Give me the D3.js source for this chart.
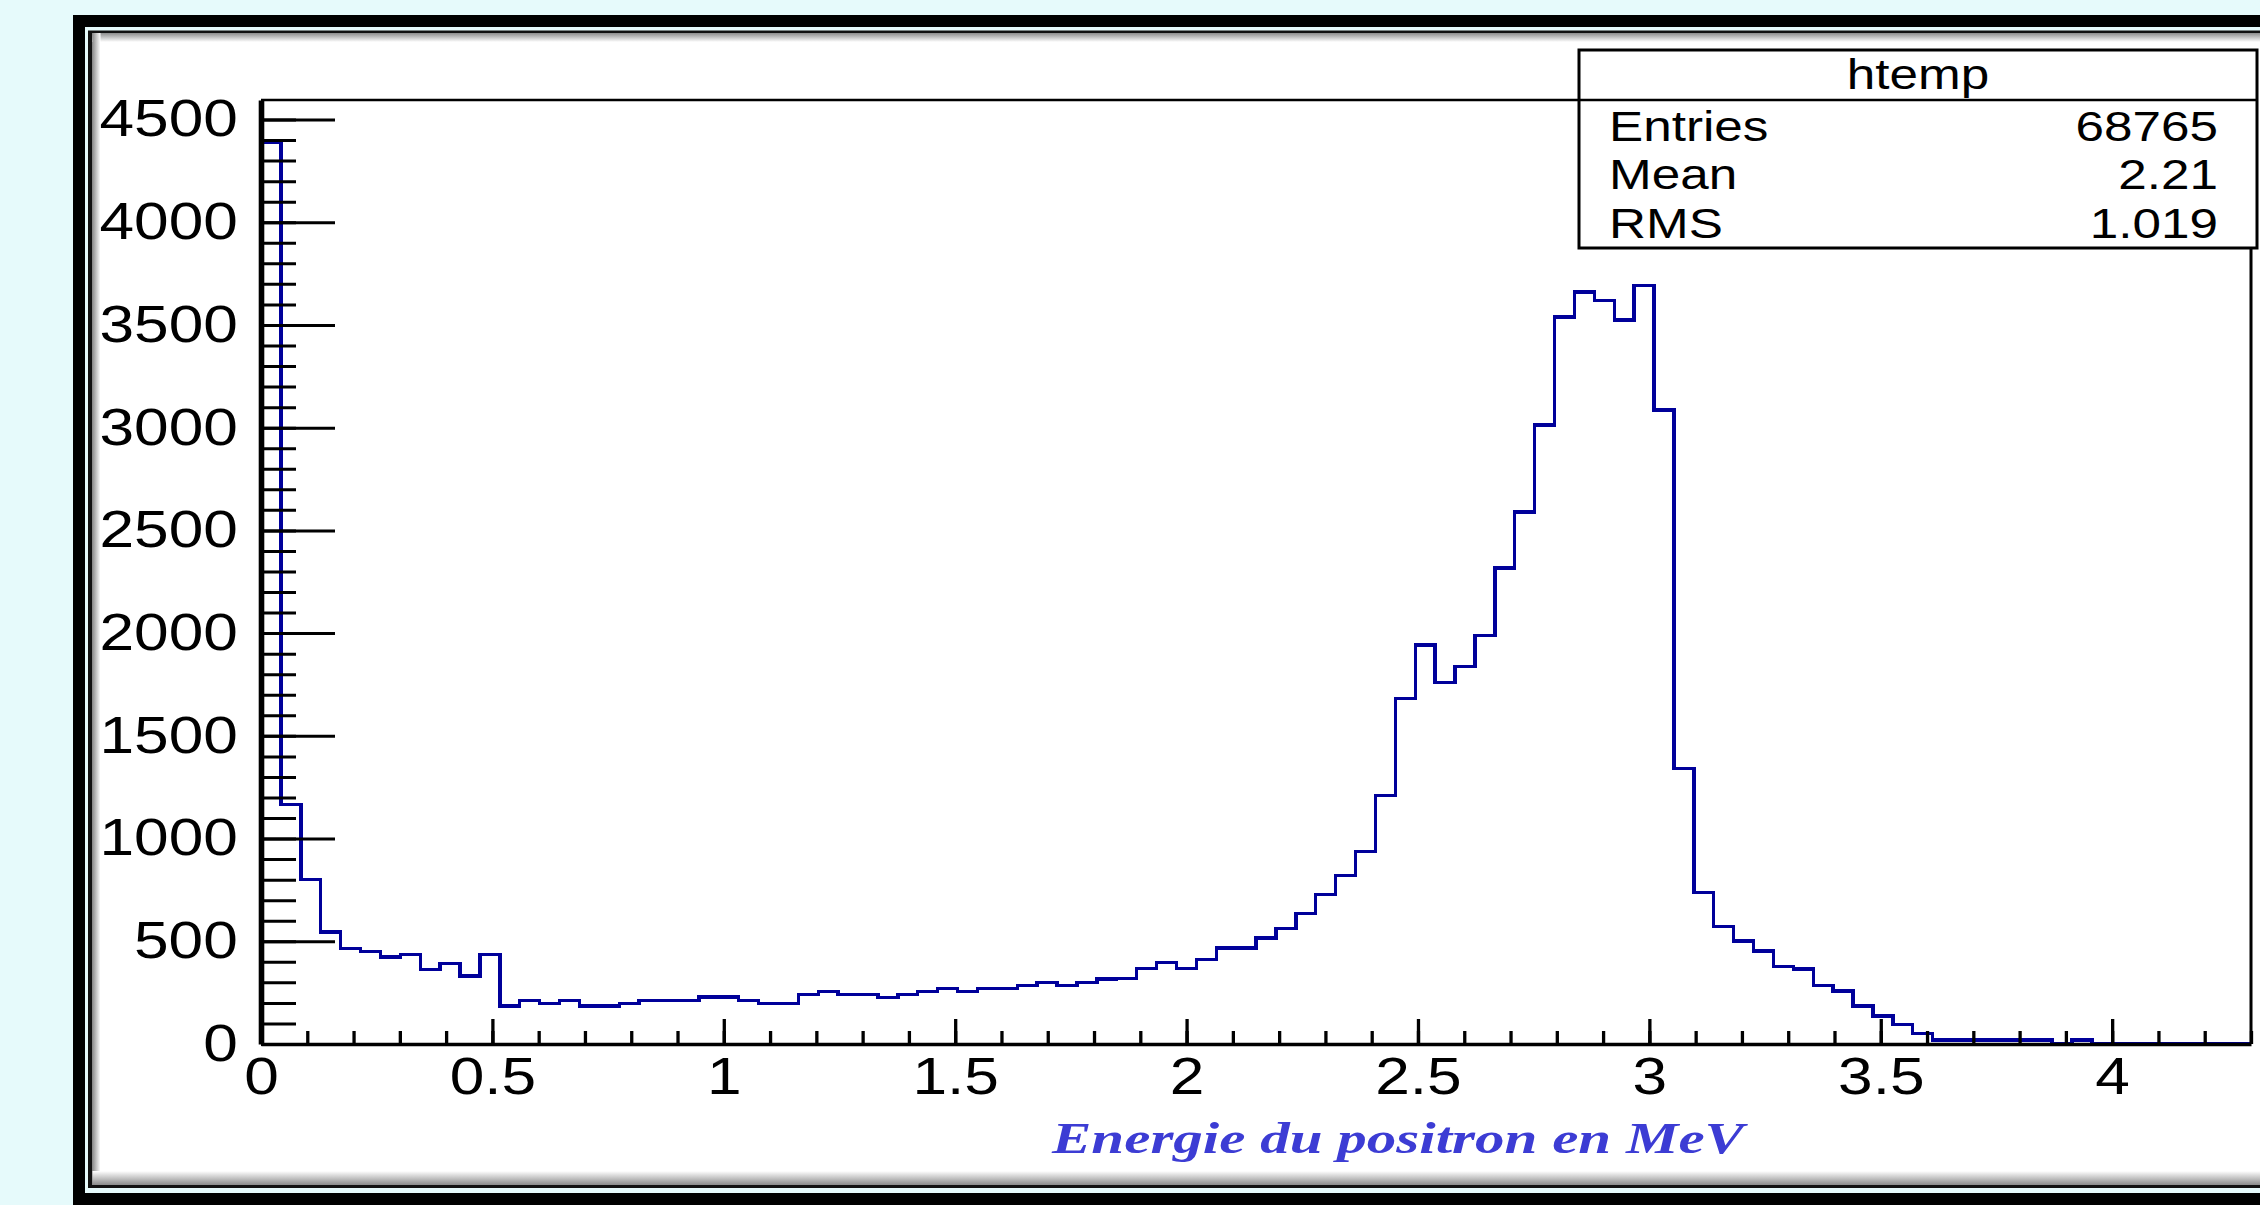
<!DOCTYPE html>
<html>
<head>
<meta charset="utf-8">
<script src="https://cdn.jsdelivr.net/npm/d3@7"></script>
<style>
html, body { margin: 0; padding: 0; background: #e6fafb; }
svg { display: block; }
</style>
</head>
<body>
<div class="chart"></div>
<script>
var w = 2260;
var h = 1205;

// histogram: 100 bins from 0 to X_MAX (MeV)
var X_MAX = 4.3;
var Y_MAX = 4595;
var binCounts = [
    4390, 1165, 800, 546, 466, 450, 423, 436, 363, 391,
    331, 436, 184, 212, 197, 212, 184, 184, 197, 212,
    212, 212, 228, 228, 212, 197, 197, 241, 256, 241,
    241, 227, 241, 256, 271, 256, 271, 271, 285, 300,
    285, 300, 316, 318, 367, 396, 367, 411, 467, 467,
    516, 562, 636, 727, 820, 938, 1211, 1683, 1943, 1761,
    1837, 1987, 2316, 2589, 3014, 3538, 3660, 3618, 3525, 3691,
    3087, 1342, 738, 573, 501, 453, 378, 365, 284, 258,
    185, 136, 95, 50, 20, 20, 20, 20, 20, 20,
    0, 20, 0, 0, 0, 0, 0, 0, 0, 0
];

var xMajor = [0, 0.5, 1, 1.5, 2, 2.5, 3, 3.5, 4];
var xTickLabels = ["0", "0.5", "1", "1.5", "2", "2.5", "3", "3.5", "4"];
var yMajor = [0, 500, 1000, 1500, 2000, 2500, 3000, 3500, 4000, 4500];
var yTickLabels = ["0", "500", "1000", "1500", "2000", "2500", "3000", "3500", "4000", "4500"];

var statsTitle = "htemp";
var statsNames = ["Entries", "Mean", "RMS"];
var statsValues = ["68765", "2.21", "1.019"];
var axisTitle = "Energie du positron en MeV";

var xMinor = d3.range(44).map(function(i) { return i / 10; });
var yMinor = d3.range(0, 4600, 100);

var x = d3.scaleLinear().domain([0, X_MAX]).range([261, 2251]);
var y = d3.scaleLinear().domain([0, Y_MAX]).range([1044, 100]);

var svg = d3.select(".chart")
    .append("svg")
    .attr("width", w)
    .attr("height", h);

var defs = svg.append("defs");
function grad(id, x2, y2, c1, c2) {
    var g = defs.append("linearGradient").attr("id", id)
        .attr("x1", 0).attr("y1", 0).attr("x2", x2).attr("y2", y2);
    g.append("stop").attr("offset", "0%").attr("stop-color", c1);
    g.append("stop").attr("offset", "100%").attr("stop-color", c2);
}
grad("gTop", 0, 1, "#8c8c8c", "#ffffff");
grad("gLeft", 1, 0, "#8c8c8c", "#ffffff");
grad("gBottom", 0, 1, "#ffffff", "#8a8a8a");

// slide frame
var bg = "#e6fafb";
svg.append("rect").attr("width", w).attr("height", h).attr("fill", bg);
svg.append("rect").attr("x", 73).attr("y", 15).attr("width", w).attr("height", h).attr("fill", "#000");
svg.append("rect").attr("x", 85).attr("y", 27).attr("width", w).attr("height", 1193 - 27).attr("fill", bg);
svg.append("rect").attr("x", 88).attr("y", 30.5).attr("width", w).attr("height", 1188 - 30.5).attr("fill", "#111");
svg.append("rect").attr("x", 92.5).attr("y", 33).attr("width", w).attr("height", 1185 - 33).attr("fill", "#fff");
svg.append("rect").attr("x", 92.5).attr("y", 33).attr("width", w).attr("height", 9).attr("fill", "url(#gTop)");
svg.append("rect").attr("x", 92.5).attr("y", 33).attr("width", 8).attr("height", 1185 - 33).attr("fill", "url(#gLeft)");
svg.append("rect").attr("x", 92.5).attr("y", 1171).attr("width", w).attr("height", 14).attr("fill", "url(#gBottom)");

// histogram outline
var binW = X_MAX / binCounts.length;
var pts = [[0, 0]];
binCounts.forEach(function(d, i) {
    pts.push([i * binW, d]);
    pts.push([(i + 1) * binW, d]);
});
pts.push([X_MAX, 0]);

var line = d3.line()
    .x(function(d) { return x(d[0]); })
    .y(function(d) { return y(d[1]); });

svg.append("path")
    .datum(pts)
    .attr("d", line)
    .attr("fill", "none")
    .attr("stroke", "#00009a")
    .attr("stroke-width", 3.4)
    .attr("shape-rendering", "crispEdges");

// frame top and right
svg.append("line").attr("x1", x(0)).attr("x2", x(X_MAX)).attr("y1", y(Y_MAX)).attr("y2", y(Y_MAX))
    .attr("stroke", "#000").attr("stroke-width", 2.6);
svg.append("line").attr("x1", x(X_MAX)).attr("x2", x(X_MAX)).attr("y1", y(Y_MAX)).attr("y2", y(0))
    .attr("stroke", "#000").attr("stroke-width", 3);

var STRETCH = 1.22;
var labelFont = "'Liberation Sans', Arial, Helvetica, sans-serif";

// x axis
var xMinorAxis = d3.axisBottom(x).tickValues(xMinor).tickSize(-13).tickSizeOuter(0).tickFormat("");
svg.append("g").attr("transform", "translate(0," + y(0) + ")").call(xMinorAxis)
    .call(function(g) { g.select(".domain").remove(); })
    .selectAll("line").attr("stroke", "#000").attr("stroke-width", 3.3);

var xAxis = d3.axisBottom(x).tickValues(xMajor).tickSize(-25).tickSizeOuter(0).tickPadding(14)
    .tickFormat(function(d, i) { return xTickLabels[i]; });
var gx = svg.append("g").attr("transform", "translate(0," + y(0) + ")").call(xAxis);
gx.select(".domain").attr("stroke", "#000").attr("stroke-width", 3.4);
gx.selectAll(".tick line").attr("stroke", "#000").attr("stroke-width", 3.3);
gx.selectAll("text")
    .attr("font-family", labelFont).attr("font-size", 51).attr("fill", "#000")
    .attr("dy", "0.71em")
    .attr("transform", "scale(" + STRETCH + ",1)");

// y axis
var yMinorAxis = d3.axisLeft(y).tickValues(yMinor).tickSize(-35).tickSizeOuter(0).tickFormat("");
svg.append("g").attr("transform", "translate(" + x(0) + ",0)").call(yMinorAxis)
    .call(function(g) { g.select(".domain").remove(); })
    .selectAll("line").attr("stroke", "#000").attr("stroke-width", 3);

var yAxis = d3.axisLeft(y).tickValues(yMajor).tickSize(-74).tickSizeOuter(0).tickPadding(19)
    .tickFormat(function(d, i) { return yTickLabels[i]; });
var gy = svg.append("g").attr("transform", "translate(" + x(0) + ",0)").call(yAxis);
gy.select(".domain").attr("stroke", "#000").attr("stroke-width", 5.6);
gy.selectAll(".tick line").attr("stroke", "#000").attr("stroke-width", 3);
gy.selectAll("text")
    .attr("font-family", labelFont).attr("font-size", 51).attr("fill", "#000")
    .attr("transform", "scale(" + STRETCH + ",1)");

// axis title
svg.append("text")
    .attr("x", 1052).attr("y", 1153)
    .attr("textLength", 692).attr("lengthAdjust", "spacingAndGlyphs")
    .attr("font-family", "'Liberation Serif', 'Times New Roman', serif")
    .attr("font-style", "italic").attr("font-weight", "bold")
    .attr("font-size", 45).attr("fill", "#3c3cd4")
    .text(axisTitle);

// stats box
var box = { x0: 1579, x1: 2257, y0: 50, y1: 248, sep: 100 };
svg.append("rect").attr("x", box.x0).attr("y", box.y0)
    .attr("width", box.x1 - box.x0).attr("height", box.y1 - box.y0)
    .attr("fill", "#fff").attr("stroke", "#000").attr("stroke-width", 3);
svg.append("line").attr("x1", box.x0).attr("x2", box.x1).attr("y1", box.sep).attr("y2", box.sep)
    .attr("stroke", "#000").attr("stroke-width", 2.6);

function stretched(tx, ty, str, anchor) {
    svg.append("g").attr("transform", "translate(" + tx + "," + ty + ")")
        .append("text")
        .attr("transform", "scale(" + STRETCH + ",1)")
        .attr("text-anchor", anchor)
        .attr("font-family", labelFont).attr("font-size", 42).attr("fill", "#000")
        .text(str);
}
stretched((box.x0 + box.x1) / 2, 89, statsTitle, "middle");
var rowY = [141, 189, 238];
statsNames.forEach(function(d, i) {
    stretched(1609, rowY[i], d, "start");
    stretched(2218, rowY[i], statsValues[i], "end");
});
</script>
</body>
</html>
